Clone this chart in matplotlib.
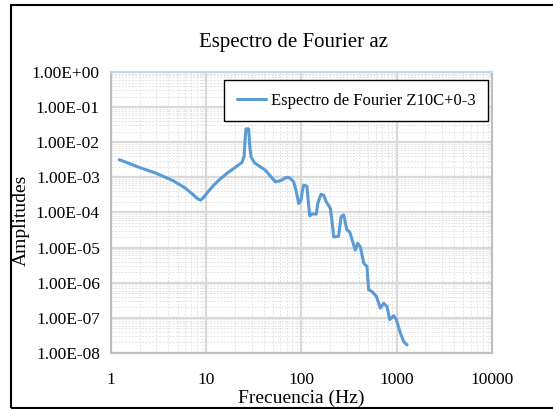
import matplotlib.pyplot as plt
from matplotlib.ticker import LogLocator, FixedLocator
from matplotlib.patches import Rectangle

plt.rcParams['font.family'] = ['Liberation Serif', 'DejaVu Serif']

freq = [1.22, 2.0, 3.0, 4.5, 6.0, 7.3, 8.2, 8.7, 9.3, 10.2, 12.0, 14.0, 16.5,
        20.0, 23.7, 25.0, 25.6, 26.1, 27.9, 28.6, 29.5, 32.0, 36.0, 41.7, 47.0,
        53.0, 58.0, 62.4, 68.0, 73.4, 78.0, 82.7, 88.0, 93.4, 98.8, 102.0,
        105.4, 114.0, 118.0, 122.0, 129.0, 143.0, 148.0, 160.0, 171.0, 182.0,
        201.0, 210.0, 218.0, 245.0, 260.0, 277.0, 300.0, 321.0, 339.0, 367.0,
        389.0, 415.0, 450.0, 487.0, 507.0, 550.0, 611.0, 673.0, 729.0, 790.0,
        843.0, 929.0, 991.0, 1091.0, 1183.0, 1282.0]
amp = [3.2e-3, 1.9e-3, 1.3e-3, 8.0e-4, 5.0e-4, 3.2e-4, 2.4e-4, 2.25e-4,
       2.6e-4, 3.6e-4, 6.0e-4, 9.0e-4, 1.3e-3, 1.9e-3, 2.65e-3, 4.0e-3,
       1.2e-2, 2.4e-2, 2.4e-2, 8.0e-3, 3.9e-3, 2.6e-3, 2.1e-3, 1.6e-3,
       1.1e-3, 7.5e-4, 7.8e-4, 8.4e-4, 9.8e-4, 1.0e-3, 8.8e-4, 7.5e-4,
       4.0e-4, 1.8e-4, 2.2e-4, 4.0e-4, 6.0e-4, 5.6e-4, 2.0e-4, 8.0e-5,
       9.0e-5, 9.0e-5, 1.8e-4, 3.3e-4, 3.1e-4, 2.0e-4, 1.3e-4, 5.0e-5,
       2.0e-5, 2.1e-5, 7.5e-5, 8.5e-5, 3.2e-5, 2.8e-5, 1.7e-5, 8.5e-6,
       1.33e-5, 1.05e-5, 3.6e-6, 2.9e-6, 6.3e-7, 5.6e-7, 4.1e-7, 1.9e-7,
       2.6e-7, 2.1e-7, 8.9e-8, 1.15e-7, 8.9e-8, 3.7e-8, 2.1e-8, 1.7e-8]

x_ticks = [1, 10, 100, 1000, 10000]
x_labels = ['1', '10', '100', '1000', '10000']
y_ticks = [1e0, 1e-1, 1e-2, 1e-3, 1e-4, 1e-5, 1e-6, 1e-7, 1e-8]
y_labels = ['1.00E+00', '1.00E-01', '1.00E-02', '1.00E-03', '1.00E-04',
            '1.00E-05', '1.00E-06', '1.00E-07', '1.00E-08']

fig = plt.figure(figsize=(5.53, 4.09), dpi=100)
ax = fig.add_axes([0.2007, 0.137, 0.689, 0.687])

ax.plot(freq, amp, color='#5b9bd5', lw=2.2, solid_joinstyle='round',
        solid_capstyle='round', label='Espectro de Fourier Z10C+0-3', zorder=3)

ax.set_xscale('log')
ax.set_yscale('log')
ax.set_xlim(1, 10000)
ax.set_ylim(1e-8, 1)

ax.xaxis.set_major_locator(FixedLocator(x_ticks))
ax.set_xticklabels(x_labels)
ax.yaxis.set_major_locator(FixedLocator(y_ticks))
ax.set_yticklabels(y_labels)
ax.xaxis.set_minor_locator(LogLocator(base=10, subs=range(2, 10), numticks=20))
ax.yaxis.set_minor_locator(LogLocator(base=10, subs=range(2, 10), numticks=20))

ax.tick_params(which='both', length=0, labelsize=12.5)
ax.tick_params(axis='y', pad=8)
ax.tick_params(axis='x', pad=14)

ax.grid(which='major', color='#d9d9d9', lw=1.6, zorder=0)
ax.grid(which='minor', color='#e3e3e3', lw=0.7, ls=(0, (2, 1.5)), zorder=0)

for side in ['left', 'right', 'bottom']:
    ax.spines[side].set_color('#bfbfbf')
    ax.spines[side].set_linewidth(1.5)
ax.spines['top'].set_color('#bdd7ee')
ax.spines['top'].set_linewidth(1.5)

ax.set_title('Espectro de Fourier az', fontsize=15, pad=18, x=0.48)
ax.set_xlabel('Frecuencia (Hz)', fontsize=14)
ax.xaxis.set_label_coords(0.5, -0.13)
ax.set_ylabel('Amplitudes', fontsize=14)
ax.yaxis.set_label_coords(-0.212, 0.473)

leg = ax.legend(loc='upper right', bbox_to_anchor=(0.99, 0.97), fontsize=12,
                fancybox=False, framealpha=1, edgecolor='black',
                borderpad=0.75, handlelength=1.75, handletextpad=0.3,
                borderaxespad=0)
leg.get_frame().set_linewidth(1.0)

# outer chart frame
fig.patches.append(Rectangle((11 / 553, 1.5 / 409), 1.0, 1 - 6.5 / 409,
                             transform=fig.transFigure, fill=False,
                             edgecolor='black', lw=1.5))

fig.savefig('out.png', dpi=100)
